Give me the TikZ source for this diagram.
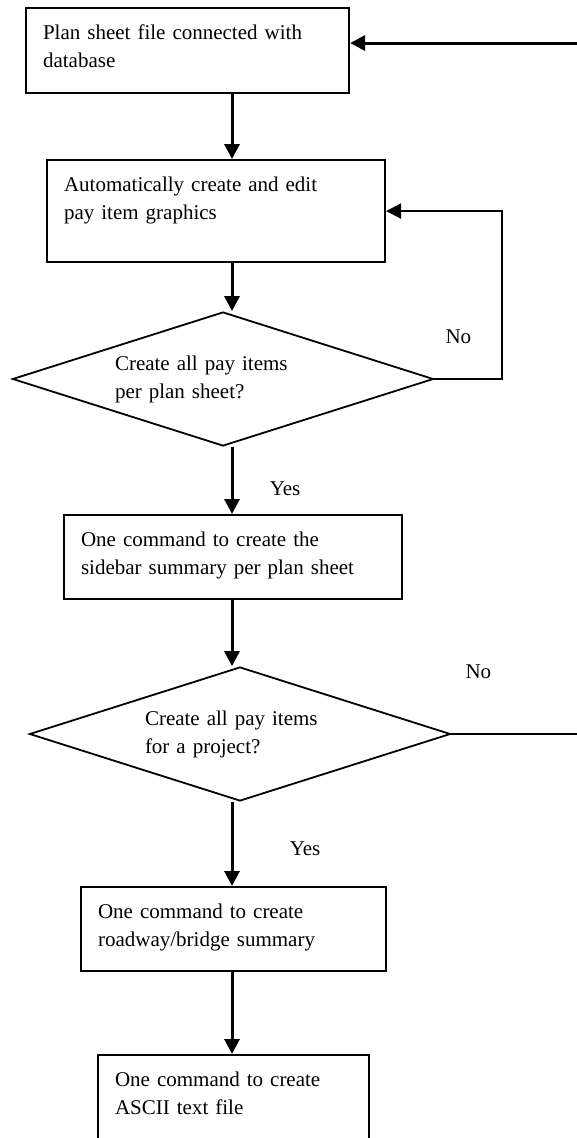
\documentclass[tikz,border=0pt]{standalone}
\usepackage{fontspec}
\setmainfont{Liberation Serif}
\usetikzlibrary{arrows.meta,shapes.geometric}

\begin{document}
\begin{tikzpicture}[
    x=1pt, y=-1pt,
    font=\fontsize{21pt}{28pt}\selectfont,
    % Reusable styles
    stepbox/.style={
      draw,
      line width=2.1pt,
      anchor=north west,
      align=left,
      inner xsep=17pt,
      inner ysep=17pt,
      text height=14.5pt
    },
    decision/.style={
      diamond,
      draw,
      line width=1.8pt,
      aspect=3.15,
      inner sep=0pt,
      align=left,
      minimum width=421pt,
      minimum height=134pt
    },
    arrow/.style={-{Triangle[length=15pt,width=15pt]}, line width=3pt},
    back/.style={line width=2.1pt}
  ]
  \useasboundingbox (0,0) rectangle (577,1138);
  \coordinate (axis) at (232,0);
  \coordinate (rim) at (580,0);

  % Nodes
  \node[stepbox, text width=289pt, text depth=36.5pt] (sheet) at (25,7)
    {Plan sheet file connected with\\database};
  \node[stepbox, text width=304pt, text depth=53.5pt] (graphics) at (46,159)
    {Automatically create and edit\\pay item graphics};
  \node[decision, text width=216pt] (allsheet) at (223,379)
    {Create all pay items\\per plan sheet?};
  \node[stepbox, text width=304pt, text depth=35.5pt] (sidebar) at (63,514)
    {One command to create the\\sidebar summary per plan sheet};
  \node[decision, text width=190pt] (allproject) at (240,734)
    {Create all pay items\\for a project?};
  \node[stepbox, text width=271pt, text depth=35.5pt] (roadway) at (80,886)
    {One command to create\\roadway/bridge summary};
  \node[stepbox, text width=237pt, text depth=61.5pt] (ascii) at (97,1054)
    {One command to create\\ASCII text file};

  % Edges
  \draw[arrow] ([yshift=7.5pt]sheet.east -| rim) -- ([yshift=7.5pt]sheet.east);
  \draw[arrow] (sheet.south -| axis) -- (graphics.north -| axis);
  \draw[arrow] (graphics.south -| axis) -- (allsheet.north -| axis);
  \draw[back, -{Triangle[length=15pt,width=15pt]}] (allsheet.east) -- ++(68,0)
    node[xshift=-44pt, yshift=42pt] {No} |- (graphics.east);
  \draw[arrow] (allsheet.south -| axis) --
    node[midway, right=33pt, yshift=-8pt] {Yes} (sidebar.north -| axis);
  \draw[arrow] (sidebar.south -| axis) -- (allproject.north -| axis);
  \draw[back] (allproject.east) --
    node[pos=0, xshift=27pt, yshift=62pt] {No} (allproject.east -| rim);
  \draw[arrow] (allproject.south -| axis) --
    node[midway, right=53pt, yshift=-4.5pt] {Yes} (roadway.north -| axis);
  \draw[arrow] (roadway.south -| axis) -- (ascii.north -| axis);
\end{tikzpicture}
\end{document}
